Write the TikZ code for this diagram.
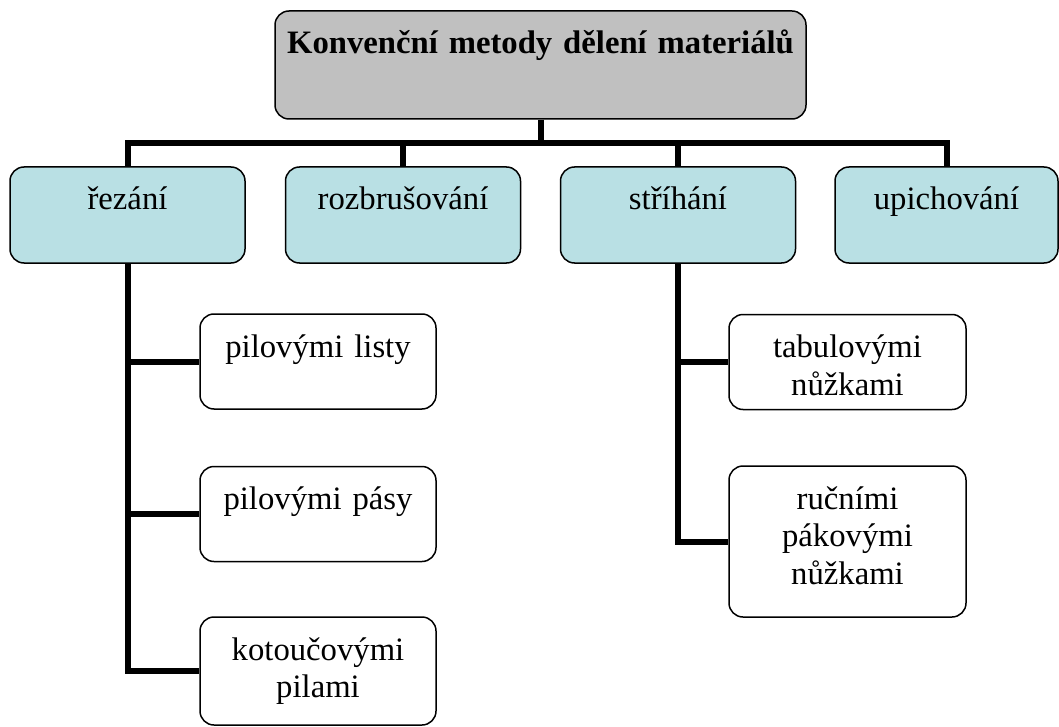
\documentclass[tikz,border=0pt]{standalone}
\usepackage{fontspec}
\setmainfont{Liberation Serif}
\usetikzlibrary{backgrounds}
\definecolor{rootgray}{HTML}{C0C0C0}
\definecolor{catblue}{HTML}{B9E0E4}
\begin{document}
\begin{tikzpicture}[x=1pt,y=-1pt,
  box/.style={draw,line width=1.5pt,rounded corners=14pt,inner sep=0pt,align=center,text height=43pt,font=\fontsize{32.7}{37.5}\selectfont},
  rootbox/.style={box,fill=rootgray,font=\fontsize{32.7}{37.5}\selectfont\bfseries,text width=531pt,text depth=65pt},
  cat/.style={box,fill=catblue,text width=235pt,text depth=53pt},
  leaf/.style={box,fill=white,text width=236pt,text depth=52pt},
  conn/.style={line width=6pt}]
\useasboundingbox (0,0) rectangle (1059,727);
% root
\node[rootbox] (root) at (540.5,65) {Konvenční metody dělení materiálů};
% methods
\node[cat] (rez) at (127.5,215) {řezání};
\node[cat] (roz) at (403,215) {rozbrušování};
\node[cat] (str) at (678,215) {stříhání};
\node[cat,text width=223pt] (upi) at (946.5,215) {upichování};
% tools
\node[leaf] (listy) at (318,361.5) {pilovými listy};
\node[leaf] (pasy) at (318,514) {pilovými pásy};
\node[leaf,text depth=65pt] (kotouc) at (318,671) {kotoučovými\\pilami};
\node[leaf,text width=237pt] (tabul) at (847.5,362) {tabulovými\\nůžkami};
\node[leaf,text width=237pt,text depth=108pt] (rucni) at (847.5,541.5) {ručními\\pákovými\\nůžkami};
% connectors
\begin{scope}[on background layer]
\coordinate (bus) at (540.5,143);
\draw[conn] (root.south) -- (bus);
\foreach \c in {rez,roz,str,upi}
  \draw[conn] (bus) -| (\c.north);
\foreach \a/\b in {rez/listy,rez/pasy,rez/kotouc,str/tabul,str/rucni}
  \draw[conn] (\a.south) |- (\b.west);
\end{scope}
\end{tikzpicture}
\end{document}
